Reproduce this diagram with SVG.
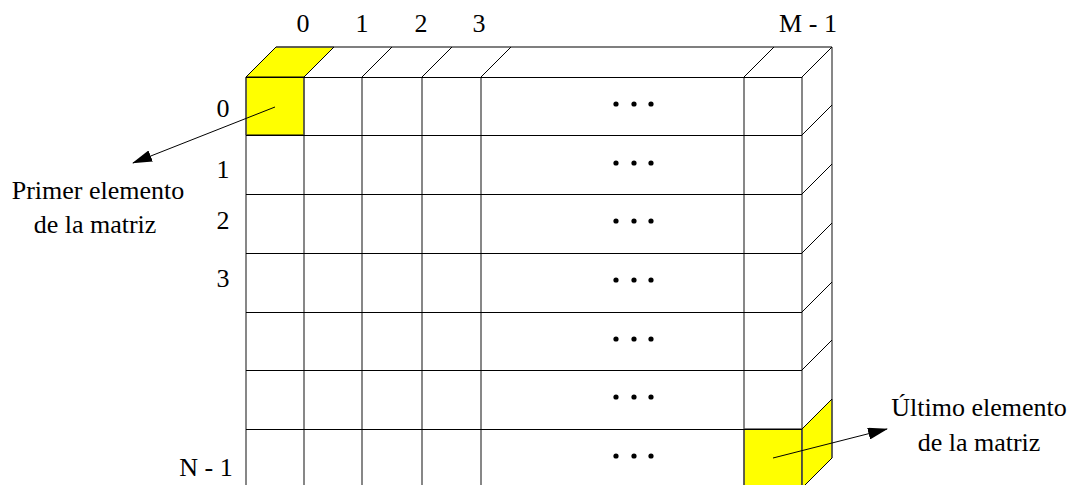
<svg xmlns="http://www.w3.org/2000/svg" width="1070" height="485" viewBox="0 0 1070 485">
<style>
.ln{stroke:#000;stroke-width:1;fill:none}
.vl{stroke:#555;stroke-width:1.4;fill:none}
.yl{fill:#ffff00;stroke:#000;stroke-width:1}
text{font-family:'Liberation Serif','Times New Roman',serif;font-size:26px;fill:#000;text-anchor:middle}
.dot{fill:#000}
</style>
<defs>
<marker id="ah" markerWidth="20" markerHeight="12" refX="19" refY="6" orient="auto" markerUnits="userSpaceOnUse">
<path d="M0,0 L20,6 L0,12 Z" fill="#000"/>
</marker>
</defs>
<rect width="1070" height="485" fill="#fff"/>
<g id="highlights">
<polygon class="yl" points="246,77 304,77 304,135 246,135"/>
<polygon class="yl" points="246,77 276,47 334,47 304,77"/>
<polygon class="yl" points="744,429 802,429 802,490 744,490"/>
<polygon class="yl" points="802,429 832,399 832,458 802,488"/>
</g>
<g id="grid">
<path class="vl" d="M246,77V485 M304,77V485 M362,77V485 M422,77V485 M481,77V485 M744,77V485 M802,77V485 M832,47V458 M276,47H832"/>
<path class="ln" d="M246,77.5H802 M246,135.5H802 M246,194.5H802 M246,253.5H802 M246,312.5H802 M246,370.5H802 M246,429.5H802"/>
<path class="ln" d="M246,77L276,47 M304,77L334,47 M362,77L392,47 M422,77L452,47 M481,77L511,47 M744,77L774,47 M802,77L832,47"/>
<path class="ln" d="M802,135L832,105 M802,194L832,164 M802,253L832,223 M802,312L832,282 M802,370L832,340 M802,429L832,399 M802,488L832,458"/>
</g>
<g id="dots">
<g class="dot">
<circle cx="616" cy="104" r="2.6"/><circle cx="634" cy="104" r="2.6"/><circle cx="651" cy="104" r="2.6"/>
<circle cx="616" cy="163" r="2.6"/><circle cx="634" cy="163" r="2.6"/><circle cx="651" cy="163" r="2.6"/>
<circle cx="616" cy="221" r="2.6"/><circle cx="634" cy="221" r="2.6"/><circle cx="651" cy="221" r="2.6"/>
<circle cx="616" cy="280" r="2.6"/><circle cx="634" cy="280" r="2.6"/><circle cx="651" cy="280" r="2.6"/>
<circle cx="616" cy="339" r="2.6"/><circle cx="634" cy="339" r="2.6"/><circle cx="651" cy="339" r="2.6"/>
<circle cx="616" cy="397" r="2.6"/><circle cx="634" cy="397" r="2.6"/><circle cx="651" cy="397" r="2.6"/>
<circle cx="616" cy="456" r="2.6"/><circle cx="634" cy="456" r="2.6"/><circle cx="651" cy="456" r="2.6"/>
</g>
</g>
<g id="col-labels">
<text x="303" y="32">0</text>
<text x="362" y="32">1</text>
<text x="421" y="32">2</text>
<text x="479" y="32">3</text>
<text x="808" y="32">M - 1</text>
</g>
<g id="row-labels">
<text x="223" y="117">0</text>
<text x="223" y="178">1</text>
<text x="223" y="229">2</text>
<text x="223" y="287">3</text>
<text x="206" y="476">N - 1</text>
</g>
<g id="connectors">
<line class="ln" x1="275" y1="107" x2="133" y2="163" marker-end="url(#ah)"/>
<line class="ln" x1="773" y1="458" x2="887" y2="429" marker-end="url(#ah)"/>
</g>
<g id="label-first">
<text x="98" y="199">Primer elemento</text>
<text x="95" y="233">de la matriz</text>
</g>
<g id="label-last">
<text x="979" y="416">Último elemento</text>
<text x="979" y="451">de la matriz</text>
</g>
</svg>
